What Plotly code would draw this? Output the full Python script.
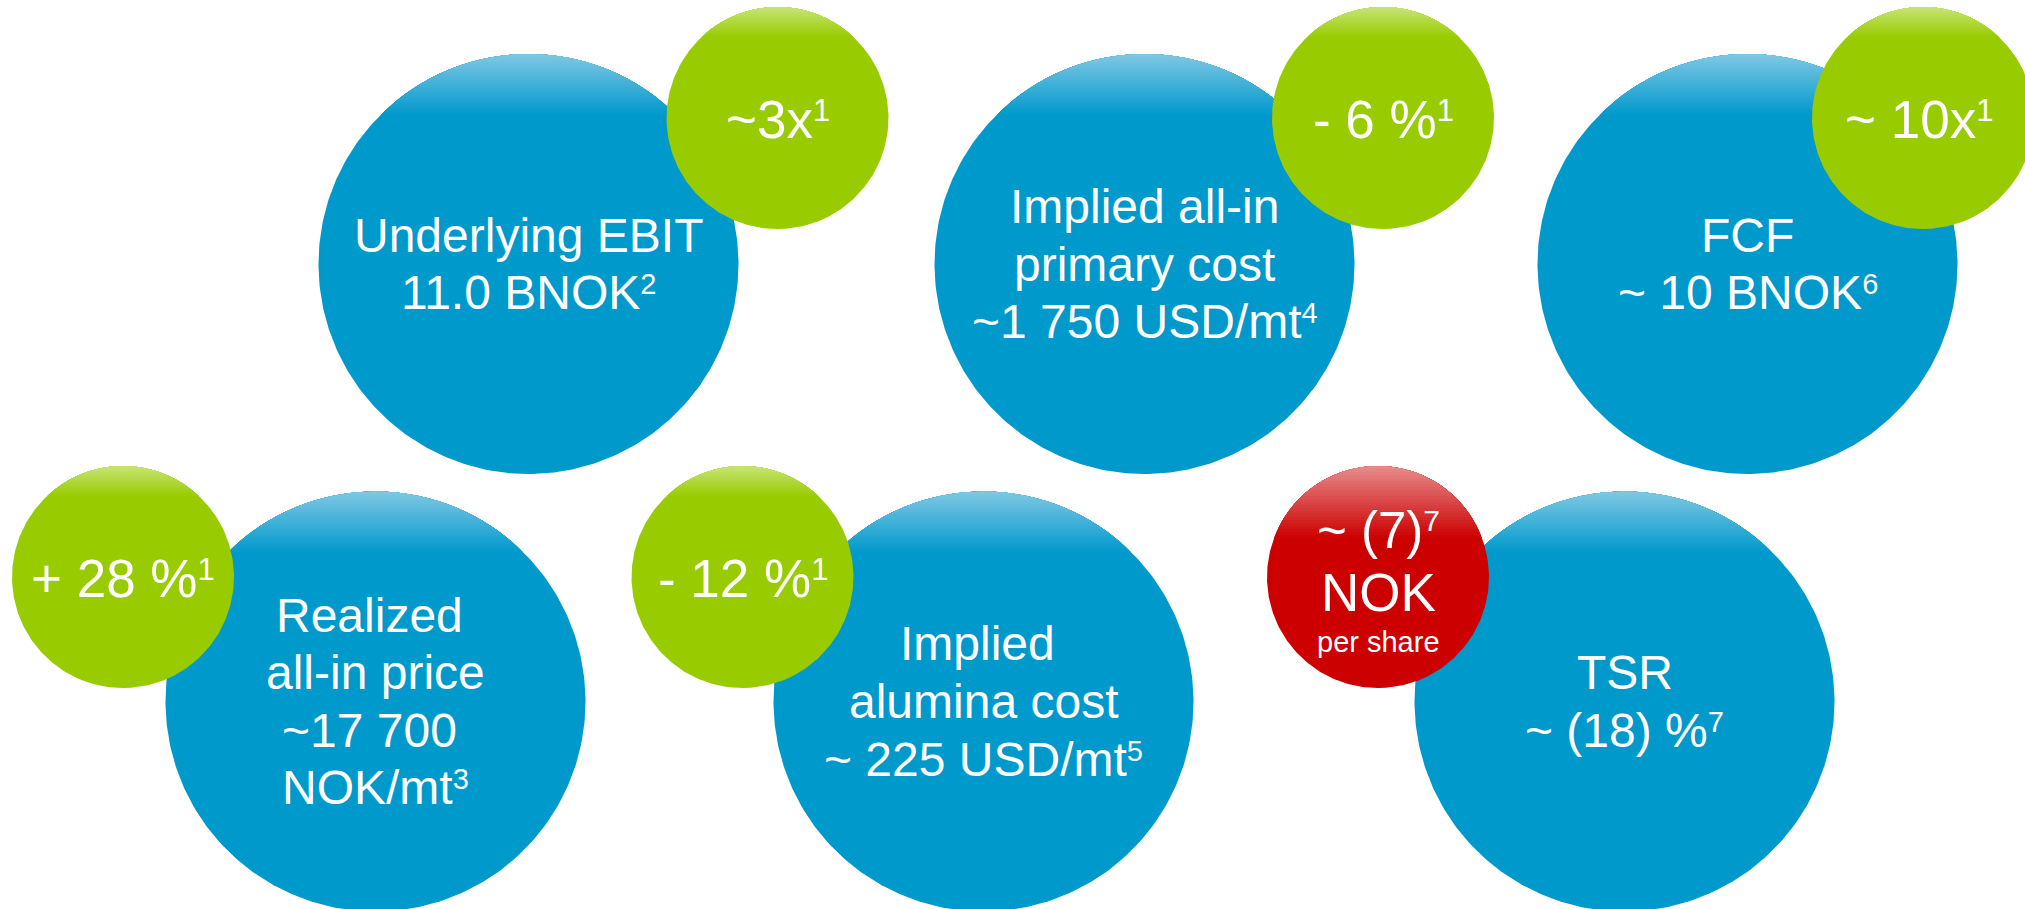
import numpy as np
import plotly.graph_objects as go

# ---------------- data ----------------
metric_lines = [
    ["Underlying EBIT", "11.0 BNOK|2"],
    ["Implied all-in", "primary cost", "~1 750 USD/mt|4"],
    ["FCF", "~ 10 BNOK|6"],
    ["Realized\u00a0", "all-in price", "~17 700\u00a0", "NOK/mt|3"],
    ["Implied\u00a0", "alumina cost", "~ 225 USD/mt|5"],
    ["TSR", "~ (18) %|7"],
]
change_lines = [
    ["~3x|1"],
    ["- 6 %|1"],
    ["~ 10x|1\u00a0"],
    ["+ 28 %|1"],
    ["- 12 %|1"],
    ["~ (7)|7", "NOK", "per share"],
]
change_tone = ["good", "good", "good", "good", "good", "bad"]

# ---------------- layout (pixel space) ----------------
W, H = 2025, 909
big_cx = [528.5, 1144.5, 1747.5, 375.5, 983.5, 1624.5]
big_cy = [264, 264, 264, 701.5, 701.5, 701.5]
R_BIG = 210
small_cx = [777.5, 1383, 1923, 123, 742.5, 1378]
small_cy = [118, 118, 118, 577, 577, 577]
R_SMALL = 111

BLUE = ((0, 153, 204), (128, 200, 228), 61)
GREEN = ((153, 204, 0), (200, 228, 120), 30)
RED = ((204, 0, 0), (232, 140, 140), 72)
FONT = "Arial, 'Liberation Sans', sans-serif"

fig = go.Figure()


def circle_xy(cx, cy, r, a=np.pi):
    t = np.linspace(-a, a, 361)
    return cx + r * np.sin(t), cy - r * np.cos(t)


def add_disc(cx, cy, r, style):
    solid, light, depth = style
    x, y = circle_xy(cx, cy, r)
    col = "rgb(%d,%d,%d)" % solid
    fig.add_trace(go.Scatter(x=x, y=y, fill="toself", fillcolor=col, mode="lines",
                             line=dict(width=0, color=col), hoverinfo="skip", showlegend=False))
    n = 24
    for k in range(n, 0, -1):
        d = depth * k / n
        f = (k - 0.5) / n
        c = tuple(int(round(light[i] + (solid[i] - light[i]) * f)) for i in range(3))
        c0 = (r - d) / r
        a = np.arccos(np.clip(c0, -1, 1))
        x, y = circle_xy(cx, cy, r, a)
        colc = "rgb(%d,%d,%d)" % c
        fig.add_trace(go.Scatter(x=x, y=y, fill="toself", fillcolor=colc, mode="lines",
                                 line=dict(width=0, color=colc), hoverinfo="skip", showlegend=False))


def fmt(t, sup_size, sup_shift):
    """Turn 'text|n' into text with a small raised footnote marker."""
    if "|" not in t:
        return t
    main, sup = t.split("|", 1)
    return '%s<span style="font-size:%dpx;baseline-shift:%dpx">%s</span>' % (main, sup_size, sup_shift, sup)


for i in range(6):
    add_disc(big_cx[i], big_cy[i], R_BIG, BLUE)
for i in range(6):
    add_disc(small_cx[i], small_cy[i], R_SMALL, GREEN if change_tone[i] == "good" else RED)

annotations = []
# big circle labels
L = 57.6
for i, lines in enumerate(metric_lines):
    n = len(lines)
    for j, t in enumerate(lines):
        y = big_cy[i] - (n - 1) * L / 2 + j * L
        annotations.append(dict(x=big_cx[i], y=y, text=fmt(t, 29, 15), showarrow=False,
                                xanchor="center", yanchor="middle",
                                font=dict(family=FONT, size=48, color="white")))
# small circle labels
for i, lines in enumerate(change_lines):
    if len(lines) == 1:
        annotations.append(dict(x=small_cx[i], y=small_cy[i] + 1.5, text=fmt(lines[0], 31, 17),
                                showarrow=False, xanchor="center", yanchor="middle",
                                font=dict(family=FONT, size=53, color="white")))
    else:
        offs = [-47, 15.5, 64.5]
        sizes = [51, 53, 29]
        for j, t in enumerate(lines):
            annotations.append(dict(x=small_cx[i], y=small_cy[i] + offs[j], text=fmt(t, 30, 17),
                                    showarrow=False, xanchor="center", yanchor="middle",
                                    font=dict(family=FONT, size=sizes[j], color="white")))

fig.update_layout(
    width=W, height=H,
    margin=dict(l=0, r=0, t=0, b=0),
    paper_bgcolor="white", plot_bgcolor="white",
    xaxis=dict(range=[0, W], visible=False, fixedrange=True),
    yaxis=dict(range=[H, 0], visible=False, fixedrange=True),
    annotations=annotations,
    showlegend=False,
)

fig.write_html("out.html", config={"displayModeBar": False, "staticPlot": True},
               post_script="document.body.style.margin='0';document.body.style.overflow='hidden';")
